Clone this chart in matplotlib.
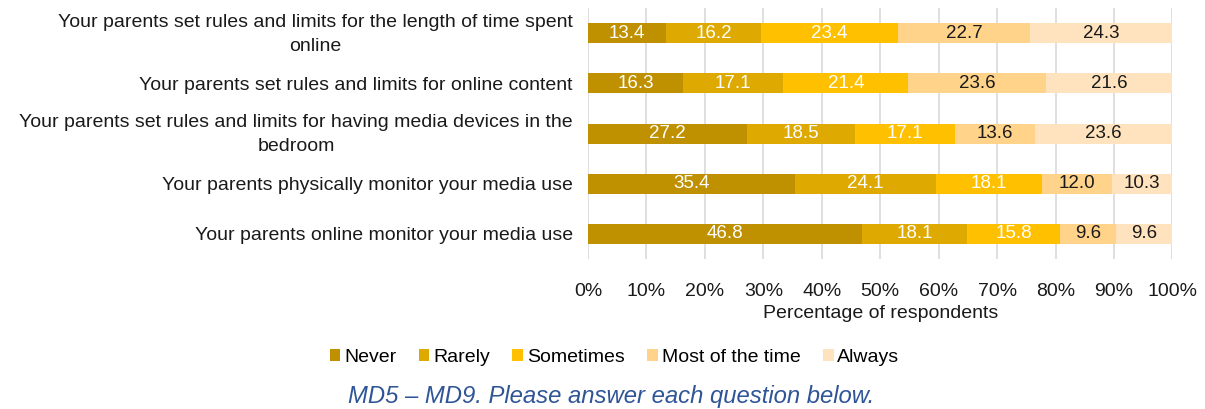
import matplotlib
matplotlib.use("Agg")
import matplotlib.pyplot as plt
import numpy as np

plt.rcParams['font.family'] = ['Liberation Sans', 'DejaVu Sans']

categories = [
    "Your parents set rules and limits for the length of time spent\nonline",
    "Your parents set rules and limits for online content",
    "Your parents set rules and limits for having media devices in the\nbedroom",
    "Your parents physically monitor your media use",
    "Your parents online monitor your media use",
]
series_names = ["Never", "Rarely", "Sometimes", "Most of the time", "Always"]
never = [13.4, 16.3, 27.2, 35.4, 46.8]
rarely = [16.2, 17.1, 18.5, 24.1, 18.1]
sometimes = [23.4, 21.4, 17.1, 18.1, 15.8]
most = [22.7, 23.6, 13.6, 12.0, 9.6]
always = [24.3, 21.6, 23.6, 10.3, 9.6]
xticklabels = ["0%", "10%", "20%", "30%", "40%", "50%", "60%", "70%", "80%", "90%", "100%"]

colors = ["#BF9000", "#DEA900", "#FFC000", "#FFD38A", "#FFE3BE"]
text_colors = ["white", "white", "white", "#1a1a1a", "#1a1a1a"]

fig = plt.figure(figsize=(12.05, 4.09), dpi=100)
ax = fig.add_axes([0.488, 0.367, 0.485, 0.613])

y = np.arange(len(categories))
left = np.zeros(len(categories))
for vals, name, c, tc in zip([never, rarely, sometimes, most, always], series_names, colors, text_colors):
    vals = np.array(vals)
    bars = ax.barh(y, vals, left=left, height=0.4, color=c, label=name, zorder=3)
    for b, v in zip(bars, vals):
        ax.text(b.get_x() + b.get_width() / 2, b.get_y() + b.get_height() / 2, f"{v:.1f}",
                ha="center", va="center", color=tc, fontsize=13.5, zorder=4)
    left += vals

ax.set_xlim(0, 100)
ax.set_ylim(len(categories) - 0.5, -0.5)
ax.set_yticks(y)
ax.set_yticklabels([])
ax.tick_params(axis="y", length=0)
for yi, cat in zip(y, categories):
    dy = 3 if "\n" in cat else 0
    ax.annotate(cat, xy=(0, yi), xycoords=("axes fraction", "data"),
                xytext=(-11, dy), textcoords="offset points",
                ha="right", va="center_baseline", multialignment="center", linespacing=1.5,
                fontsize=14, color="#1a1a1a", annotation_clip=False)
ax.set_xticks(np.arange(0, 101, 10))
ax.set_xticklabels(xticklabels, fontsize=14, color="#1a1a1a")
ax.tick_params(axis="x", length=0, pad=17)
ax.grid(axis="x", color="#D9D9D9", linewidth=1.2, zorder=0)
for s in ax.spines.values():
    s.set_visible(False)
ax.set_xlabel("Percentage of respondents", fontsize=14, color="#1a1a1a", labelpad=4)

handles, labels = ax.get_legend_handles_labels()
fig.legend(handles, labels, loc="center", bbox_to_anchor=(0.51, 0.126), ncol=5, frameon=False,
           fontsize=14, handlelength=0.55, handleheight=0.55, handletextpad=0.2, columnspacing=1.15)

fig.text(0.507, 0.03, "MD5 \u2013 MD9. Please answer each question below.", ha="center", va="center",
         fontsize=17.2, style="italic", color="#2F5597")

fig.savefig("out.png", dpi=100)
